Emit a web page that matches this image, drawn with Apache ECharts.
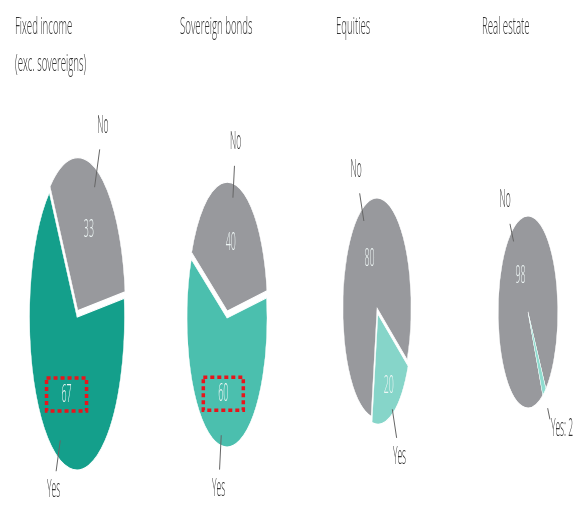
<!DOCTYPE html>
<html><head><meta charset="utf-8">
<script src="https://cdn.jsdelivr.net/npm/echarts@6/dist/echarts.min.js"></script>
<style>html,body{margin:0;padding:0;background:#fff}#c{width:587px;height:507px}</style>
</head><body><div id="c"></div>
<script>
// ---- data ----
const categories = ['Fixed income\n(exc. sovereigns)', 'Sovereign bonds', 'Equities', 'Real estate'];
const answers = ['No', 'Yes'];
const noValues = [33, 40, 80, 98];
const yesValues = [67, 60, 20, 2];

// ---- layout / style ----
const centers = [[77, 317], [227, 318], [377, 308], [528, 312]];
const radii = [153, 129, 110, 96];
const squeeze = 0.31;           // horizontal squash of the pies
const textSqueeze = 0.34;       // horizontal squash of labels
const titleSqueeze = 0.42;
const startAngles = [7, 9, -28, -53]; // degrees (CCW from 3 o'clock) where "No" begins
const explodedSlice = [0, 0, 1, -1];
const explodeDist = 7;
const yesColors = ['#149f8b', '#4bbfae', '#86d5c9', '#8fdccf'];
const noColor = '#98999d';
const valueLabelFrac = [[0.58, 0.55], [0.54, 0.59], [0.5, 0.72], [0.46, 0.5]];
const outerLine = [
  [[0.88, 1.15], [0.88, 1.10]],
  [[0.89, 1.14], [0.92, 1.19]],
  [[0.88, 1.16], [0.96, 1.25]],
  [[0.88, 1.10], [1.20, 1.34]]
];
const outerGap = [24, 19];
const titleX = [15, 180, 336, 482];
const highlightYes = [true, true, false, false];
const FONT = "'Open Sans', 'Liberation Sans', sans-serif";

function makeSeries(i) {
  const vals = [noValues[i], yesValues[i]];
  const total = vals[0] + vals[1];
  return {
    type: 'custom',
    coordinateSystem: 'none',
    name: categories[i],
    data: answers.map((a, j) => ({ name: a, value: vals[j] })),
    renderItem: function (params, api) {
      const j = params.dataIndex;
      const v = api.value(0);
      let before = 0;
      for (let k = 0; k < j; k++) before += vals[k];
      const a1 = startAngles[i] + before / total * 360;
      const a2 = a1 + v / total * 360;
      const mid = (a1 + a2) / 2 * Math.PI / 180;
      const r = radii[i];
      const off = explodedSlice[i] === j ? explodeDist : 0;
      const cx = centers[i][0] + off * Math.cos(mid) * squeeze;
      const cy = centers[i][1] - off * Math.sin(mid);
      const pt = f => [cx + f * r * Math.cos(mid) * squeeze, cy - f * r * Math.sin(mid)];
      const color = j === 0 ? noColor : yesColors[i];
      const children = [{
        type: 'sector', x: cx, y: cy, scaleX: squeeze,
        shape: { cx: 0, cy: 0, r0: 0, r: r, startAngle: -a1 * Math.PI / 180, endAngle: -a2 * Math.PI / 180, clockwise: false },
        style: { fill: color, stroke: '#ffffff', lineWidth: 1.2, strokeNoScale: true }
      }];
      if (v >= 5) {
        const p = pt(valueLabelFrac[i][j]);
        children.push({
          type: 'text', x: p[0], y: p[1], scaleX: textSqueeze,
          style: { text: String(v), fill: '#eef6f5', fontSize: 26, fontFamily: FONT, fontWeight: 300,
                   align: 'center', verticalAlign: 'middle', textAlign: 'center', textVerticalAlign: 'middle' }
        });
        if (j === 1 && highlightYes[i]) {
          children.push({
            type: 'rect', shape: { x: p[0] - 20, y: p[1] - 16, width: 40, height: 33 },
            style: { fill: 'none', stroke: '#e8141b', lineWidth: 3.5, lineDash: [4, 3] }
          });
        }
      }
      const lf = outerLine[i][j];
      const s = pt(lf[0]), e = pt(lf[1]);
      children.push({ type: 'line', shape: { x1: s[0], y1: s[1], x2: e[0], y2: e[1] },
                      style: { stroke: '#666', lineWidth: 1 } });
      const dx = e[0] - s[0], dy = e[1] - s[1], L = Math.hypot(dx, dy);
      const small = v < 5;
      const gap = small ? 10 : outerGap[j];
      const tx = e[0] + dx / L * gap + (small ? -1 : 0);
      const ty = e[1] + dy / L * gap;
      children.push({
        type: 'text', x: tx, y: ty, scaleX: textSqueeze,
        style: { text: small ? answers[j] + ': ' + v : answers[j], fill: '#333', fontSize: 25, fontFamily: FONT, fontWeight: 300,
                 align: small ? 'left' : 'center', verticalAlign: 'middle',
                 textAlign: small ? 'left' : 'center', textVerticalAlign: 'middle' }
      });
      return { type: 'group', children: children };
    }
  };
}

const titleGraphics = [];
categories.forEach((c, i) => {
  c.split('\n').forEach((line, k) => {
    titleGraphics.push({
      type: 'text', x: titleX[i], y: 27 + k * 37, scaleX: titleSqueeze,
      style: { text: line, fill: '#333', fontSize: 23, fontFamily: FONT, fontWeight: 300,
               align: 'left', verticalAlign: 'middle', textAlign: 'left', textVerticalAlign: 'middle' }
    });
  });
});

const chart = echarts.init(document.getElementById('c'), null, { renderer: 'canvas' });
chart.setOption({
  animation: false,
  backgroundColor: '#ffffff',
  graphic: titleGraphics,
  series: categories.map((c, i) => makeSeries(i))
});
</script></body></html>
